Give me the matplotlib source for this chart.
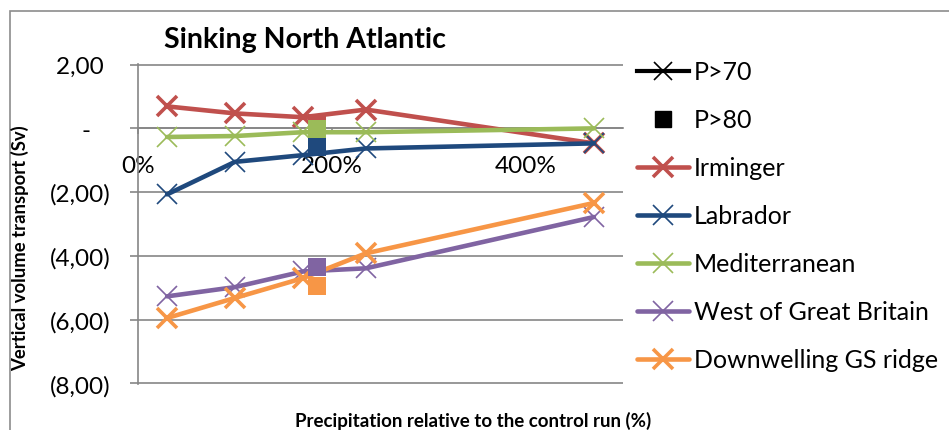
import matplotlib
matplotlib.use("Agg")
import matplotlib.pyplot as plt
from matplotlib.patches import Rectangle

plt.rcParams['font.family'] = ['Lato', 'DejaVu Sans']

# data (precipitation %, vertical transport Sv)
precip = [30, 100, 170, 235, 470]
irminger = [0.69, 0.47, 0.35, 0.59, -0.47]
labrador = [-2.07, -1.05, -0.84, -0.63, -0.47]
mediterranean = [-0.27, -0.24, -0.12, -0.12, 0.0]
west_gb = [-5.27, -4.98, -4.49, -4.39, -2.78]
downwelling = [-5.95, -5.32, -4.70, -3.92, -2.34]

# P>70 point (mostly hidden under Labrador) and P>80 squares
p70_x = [470]
p70_y = [-0.47]
p80_x = 185
p80_y = [0.17, -0.58, -0.03, -4.34, -4.93]

names = ['Irminger', 'Labrador', 'Mediterranean', 'West of Great Britain',
         'Downwelling GS ridge']
series = [irminger, labrador, mediterranean, west_gb, downwelling]
colors = ['#C0504D', '#1F497D', '#9BBB59', '#8064A2', '#F79646']
mews = [2.6, 1.2, 1.2, 1.2, 2.6]

yticks = [2, 0, -2, -4, -6, -8]
ylabels = ['2,00 ', '-   ', '(2,00)', '(4,00)', '(6,00)', '(8,00)']
xticks = [0, 200, 400]
xlabels = ['0%', '200%', '400%']

W, H = 949, 431
fig = plt.figure(figsize=(W / 100, H / 100), dpi=100)
ax = fig.add_axes([138 / W, 1 - 385 / H, (623 - 138) / W, (385 - 65) / H])

# outer chart border
fig.patches.append(Rectangle((10 / W, -0.1), 1.2, 1 - 12 / H + 0.1,
                             transform=fig.transFigure, fill=False,
                             edgecolor='#8c8c8c', lw=1.2))

grey = '#868686'

ax.plot(p70_x, p70_y, color='black', lw=3, marker='x', ms=13, mew=1.2,
        label='P>70', zorder=2)
ax.plot([], [], ls='none', marker='s', ms=12, color='black', label='P>80')

for name, ys, c, mw in zip(names, series, colors, mews):
    ax.plot(precip, ys, color=c, lw=3.3, marker='x', ms=14, mew=mw,
            label=name, zorder=3, solid_capstyle='round')

for y, c in zip(p80_y, colors):
    ax.plot([p80_x], [y], ls='none', marker='s', ms=13.5, mew=0, color=c,
            zorder=4)

ax.set_xlim(0, 500)
ax.set_ylim(-8.02, 2.02)
ax.set_yticks(yticks)
ax.set_yticklabels(ylabels)
ax.set_xticks(xticks)
ax.set_xticklabels(xlabels)

ax.spines['top'].set_visible(False)
ax.spines['right'].set_visible(False)
ax.spines['left'].set_color(grey)
ax.spines['left'].set_linewidth(1.2)
ax.spines['bottom'].set_position(('data', 0))
ax.spines['bottom'].set_color(grey)
ax.spines['bottom'].set_linewidth(1.2)

ax.yaxis.grid(True, color=grey, lw=1.2)
ax.set_axisbelow(True)
ax.tick_params(axis='y', length=6, width=1.2, color=grey, pad=14,
               labelsize=17.5)
ax.tick_params(axis='x', length=4, width=1.2, color=grey, pad=15,
               labelsize=17.5)

fig.text(305 / W, 1 - 40 / H, 'Sinking North Atlantic', fontsize=20.5,
         fontweight='bold', va='center', ha='center')
fig.text(20 / W, 1 - 248 / H, 'Vertical volume transport (Sv)', fontsize=13.3,
         fontweight='bold', rotation=90, va='center', ha='center')
fig.text(473 / W, 1 - 421 / H, 'Precipitation relative to the control run (%)',
         fontsize=13.5, fontweight='bold', va='center', ha='center')

handles, labels = ax.get_legend_handles_labels()
fig.legend(handles, labels, loc='upper left',
           bbox_to_anchor=(624 / W, 1 - 49 / H), frameon=False,
           fontsize=18, handlelength=2.1, handletextpad=0.2,
           labelspacing=1.0, borderpad=0)

fig.savefig('out.png', dpi=100)
